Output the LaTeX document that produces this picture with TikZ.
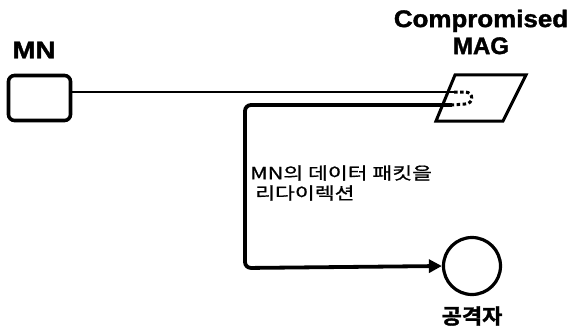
\documentclass[tikz,border=0pt]{standalone}
\usepackage{fontspec}
\setmainfont{Liberation Sans}
\newfontfamily\heavy[FakeBold=1.5]{Liberation Sans Bold}
\newfontfamily\kr[FakeBold=0.8]{Noto Sans CJK KR}
\newfontfamily\krb[FakeBold=1.5]{Noto Sans CJK KR Bold}
\usetikzlibrary{arrows.meta}
\begin{document}
\begin{tikzpicture}[x=1pt,y=-1pt,
  boldlabel/.style={font=\heavy\fontsize{24}{26}\selectfont, inner sep=0pt},
  mnbox/.style={draw, line width=3.6pt, rounded corners=6pt, minimum width=62pt, minimum height=45pt, inner sep=0pt},
  attacker/.style={draw, circle, line width=3.2pt, minimum size=57pt, inner sep=0pt},
  link/.style={line width=2.6pt},
  redir/.style={line width=3.8pt, rounded corners=6pt},
  dashd/.style={line width=3pt, dash pattern=on 3.5pt off 2.5pt}
]
\useasboundingbox[fill=white] (0,0) rectangle (573,329);
% MN
\node[boldlabel] (mnlabel) at (34,50) {\scalebox{1.15}[1]{MN}};
\node[mnbox] (mn) at (39.5,98) {};
% MAG parallelogram
\coordinate (p1) at (455,75);
\coordinate (p2) at (526,75);
\coordinate (p3) at (503,121);
\coordinate (p4) at (436,121);
\draw[line width=3pt, line join=miter] (p1) -- (p2) -- (p3) -- (p4) -- cycle;
\node[boldlabel, align=center] (maglabel) at (481,32) {\scalebox{1.08}[1]{Compromised}\\[1pt]MAG};
% lines
\coordinate (inA) at (454,92);
\coordinate (inB) at (452,105);
\draw[link] ([yshift=6pt]mn.east) -- (inA);
\draw[dashd] (inA) -- (465,92) .. controls (474,92) and (474,104) .. (465,104) -- (inB);
% attacker
\node[attacker] (att) at (472,266) {};
\node[font=\krb\fontsize{21}{24}\selectfont, inner sep=0pt] (attlabel) at (472,316) {\scalebox{1.05}[1]{공격자}};
\draw[redir, -{Triangle[length=13pt,width=13pt]}] (inB) -- (245,105) -- (245,268) -- (att.west);
% text
\node[font=\kr\fontsize{17}{20}\selectfont, align=left, anchor=west, inner sep=0pt] (txt) at (250,183) {\scalebox{1.27}[1]{MN의 데이터 패킷을}\\\hspace{5pt}\scalebox{1.27}[1]{리다이렉션}};
\end{tikzpicture}
\end{document}
